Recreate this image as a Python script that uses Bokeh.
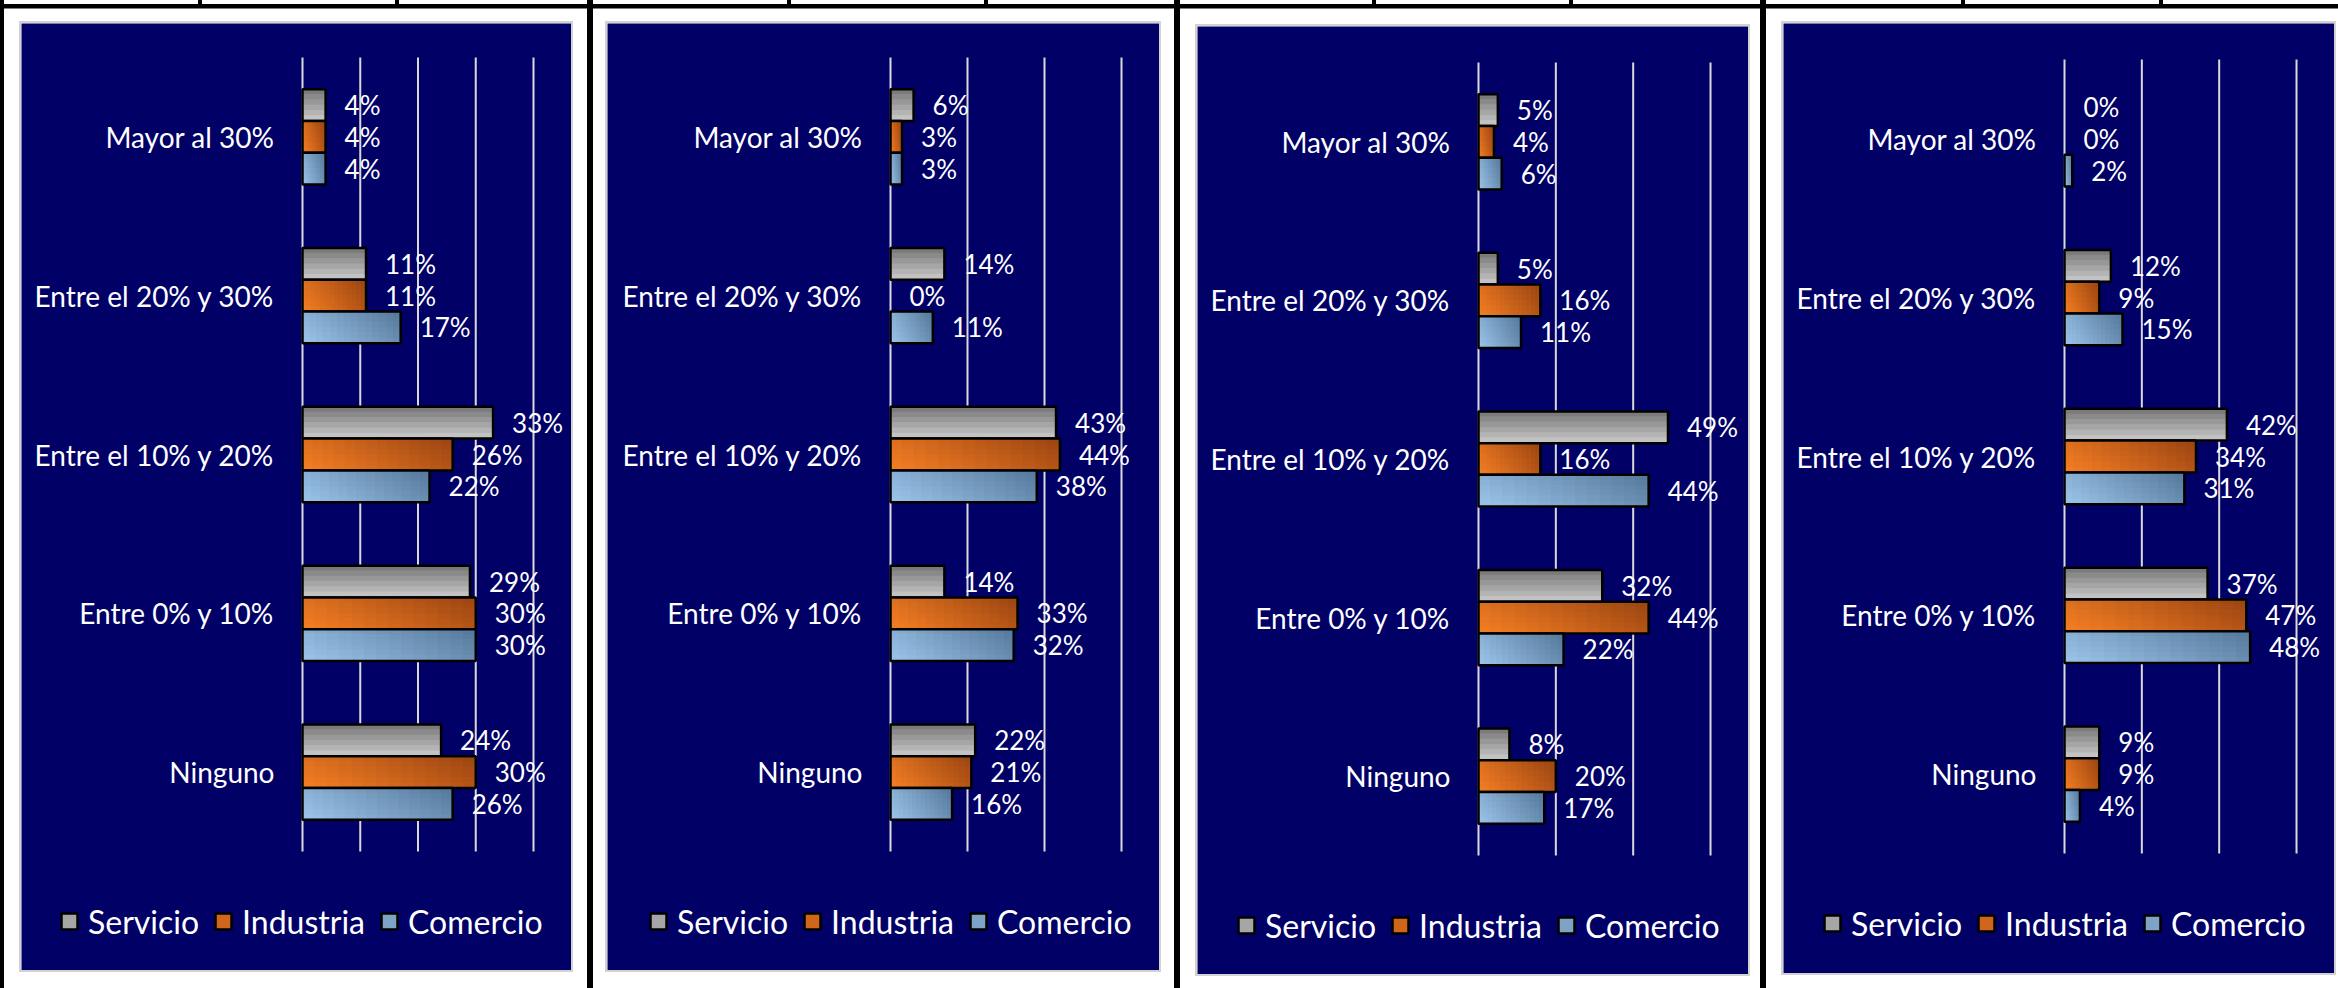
from bokeh.plotting import figure
from bokeh.models import ColumnDataSource, Legend, LegendItem, Div, Range1d
from bokeh.core.properties import value
from bokeh.layouts import row, column
from bokeh.embed import file_html
from bokeh.resources import INLINE

# ---------------- data ----------------
categories = ["Mayor al 30%", "Entre el 20% y 30%", "Entre el 10% y 20%", "Entre 0% y 10%", "Ninguno"]  # top -> bottom
series = ["Servicio", "Industria", "Comercio"]

p1_servicio = [4, 11, 33, 29, 24]
p1_industria = [4, 11, 26, 30, 30]
p1_comercio = [4, 17, 22, 30, 26]

p2_servicio = [6, 14, 43, 14, 22]
p2_industria = [3, 0, 44, 33, 21]
p2_comercio = [3, 11, 38, 32, 16]

p3_servicio = [5, 5, 49, 32, 8]
p3_industria = [4, 16, 16, 44, 20]
p3_comercio = [6, 11, 44, 22, 17]

p4_servicio = [0, 12, 42, 37, 9]
p4_industria = [0, 9, 34, 47, 9]
p4_comercio = [2, 15, 31, 48, 4]

p1_ticks = [0, 10, 20, 30, 40]
p2_ticks = [0, 20, 40, 60]
p3_ticks = [0, 20, 40, 60]
p4_ticks = [0, 20, 40, 60]

# ---------------- style ----------------
NAVY = "#000066"
GRID = "#D9D9D9"
FONT = "Lato"
GRAD = {
    "Servicio": ("#CACACA", "#747474"),
    "Industria": ("#F68024", "#9A4412"),
    "Comercio": ("#9DC5EB", "#54789A"),
}
MID = {"Servicio": "#A6A6A6", "Industria": "#D0651C", "Comercio": "#7EA3C7"}
OFFS = {"Servicio": 0.2, "Industria": 0.0, "Comercio": -0.2}
BAR_H = 0.2
NY = 6
NCAT = len(categories)
cat_pos = [NCAT - 1 - i for i in range(NCAT)]  # numeric position of each category (top = highest)


def hex2rgb(h):
    h = h.lstrip("#")
    return tuple(int(h[i:i + 2], 16) for i in (0, 2, 4))


def lerp(c1, c2, t):
    a, b = hex2rgb(c1), hex2rgb(c2)
    return "#%02x%02x%02x" % tuple(int(round(a[i] + (b[i] - a[i]) * t)) for i in range(3))


# layout in page pixels
panels = [
    dict(vals=[p1_servicio, p1_industria, p1_comercio], ticks=p1_ticks,
         fl=21, ft=23, w=550, h=947, x0=302, ppp=5.775, yt=57, yb=851, ml=17, lgx=59, lgy=921),
    dict(vals=[p2_servicio, p2_industria, p2_comercio], ticks=p2_ticks,
         fl=607, ft=23, w=552, h=947, x0=890, ppp=3.85, yt=57, yb=851, ml=14, lgx=648, lgy=921),
    dict(vals=[p3_servicio, p3_industria, p3_comercio], ticks=p3_ticks,
         fl=1197, ft=26, w=551, h=948, x0=1478, ppp=3.867, yt=62, yb=855, ml=17, lgx=1236, lgy=925),
    dict(vals=[p4_servicio, p4_industria, p4_comercio], ticks=p4_ticks,
         fl=1783, ft=23, w=551, h=950, x0=2064, ppp=3.867, yt=59, yb=853, ml=17, lgx=1822, lgy=923),
]
TOP_STRIP = 9


def make_panel(cfg):
    upp = NCAT / (cfg["yb"] - cfg["yt"])
    y_start = -0.5 - (cfg["ft"] + cfg["h"] - cfg["yb"]) * upp
    y_end = NCAT - 0.5 + (cfg["yt"] - cfg["ft"]) * upp
    x_start = (cfg["fl"] - cfg["x0"]) / cfg["ppp"]
    x_end = (cfg["fl"] + cfg["w"] - cfg["x0"]) / cfg["ppp"]
    p = figure(
        width=cfg["w"], height=cfg["h"],
        x_range=Range1d(x_start, x_end), y_range=Range1d(y_start, y_end),
        x_axis_location=None, y_axis_location=None,
        toolbar_location=None, output_backend="svg",
        min_border=0, min_border_left=0, min_border_right=0, min_border_top=0, min_border_bottom=0,
        border_fill_color=NAVY, background_fill_color=NAVY,
        outline_line_color=None,
        margin=(cfg["ft"] - TOP_STRIP, 0, 0, cfg["ml"]),
        styles={"outline": "2px solid #D2D2D2"},
    )
    p.grid.visible = False

    # vertical gridlines over the category band
    ticks = cfg["ticks"]
    p.segment(x0=ticks, x1=ticks, y0=[-0.5] * len(ticks), y1=[NCAT - 0.5] * len(ticks),
              line_color=GRID, line_width=2)

    # category labels
    p.text(x=[0] * NCAT, y=cat_pos, text=categories, x_offset=-28,
           text_align="right", text_baseline="middle", text_color="white",
           text_font=value(FONT), text_font_size="28px")

    items = []
    for s_name, vals in zip(series, cfg["vals"]):
        off = OFFS[s_name]
        light, dark = GRAD[s_name]
        ys = [c + off for c in cat_pos]
        src = ColumnDataSource(dict(y=ys, val=vals, lbl=["%d%%" % v for v in vals]))
        base = p.hbar(y="y", left=0, right="val", height=BAR_H, source=src,
                      fill_color=MID[s_name], line_color=None)
        nx = 1 if s_name == "Servicio" else 14
        for k in range(NY):
            tb = (k + 0.5) / NY  # 0 top -> 1 bottom
            yy, lefts, rights, cols = [], [], [], []
            for y, v in zip(ys, vals):
                if v <= 0:
                    continue
                for j in range(nx):
                    u = (j + 0.5) / nx
                    t = (1 - tb) if s_name == "Servicio" else 0.72 * u + 0.28 * (1 - tb)
                    yy.append(y + BAR_H / 2 - (k + 0.5) * BAR_H / NY)
                    lefts.append(v * j / nx)
                    rights.append(v * (j + 1) / nx)
                    cols.append(lerp(light, dark, t))
            ssrc = ColumnDataSource(dict(y=yy, left=lefts, right=rights, color=cols))
            p.hbar(y="y", left="left", right="right", height=BAR_H / NY, source=ssrc,
                   fill_color="color", line_color="color", line_width=1)
        nz = [(y, v) for y, v in zip(ys, vals) if v > 0]
        osrc = ColumnDataSource(dict(y=[a for a, _ in nz], val=[b for _, b in nz]))
        outline = p.hbar(y="y", left=0, right="val", height=BAR_H, source=osrc,
                         fill_color=None, line_color="black", line_width=2.5)
        p.text(x="val", y="y", text="lbl", source=src,
               x_offset=19, text_align="left", text_baseline="middle",
               text_color="white", text_font=value(FONT), text_font_size="26px")
        items.append(LegendItem(label=s_name, renderers=[base, outline]))

    LH = 40
    legend = Legend(items=items, orientation="horizontal",
                    location=(cfg["lgx"] - cfg["fl"], cfg["ft"] + cfg["h"] - cfg["lgy"] - LH / 2),
                    padding=0, margin=0, spacing=14, label_standoff=9,
                    glyph_width=20, glyph_height=20, label_height=LH,
                    border_line_color=None, background_fill_alpha=0,
                    label_text_color="white", label_text_font=FONT,
                    label_text_font_size="32px")
    p.add_layout(legend)
    return p


figs = [make_panel(c) for c in panels]

# table lines of the page (black)
thick_x = [(0, 4), (587, 593), (1174, 1180), (1760, 1766)]
thin_x = [198, 395, 787, 984, 1372, 1569, 1961, 2159]
svg = ['<svg xmlns="http://www.w3.org/2000/svg" width="2338" height="%d" style="display:block">' % TOP_STRIP]
svg.append('<rect x="0" y="4" width="2338" height="4.5" fill="black"/>')
for x in thin_x:
    svg.append('<rect x="%d" y="0" width="4" height="5" fill="black"/>' % x)
for a, b in thick_x:
    svg.append('<rect x="%d" y="0" width="%d" height="%d" fill="black"/>' % (a, b - a, TOP_STRIP))
svg.append('</svg>')
top = Div(text="".join(svg), width=2338, height=TOP_STRIP, margin=(0, 0, 0, 0),
          styles={"overflow": "hidden", "line-height": "0"})


def black_line(ml, w):
    return Div(text="", width=w, height=988 - TOP_STRIP, margin=(0, 0, 0, ml),
               styles={"background-color": "black"})


body = row(black_line(0, 4), figs[0], black_line(16, 6), figs[1], black_line(15, 6), figs[2],
           black_line(12, 6), figs[3], spacing=0)
layout = column(top, body, spacing=0)

open("out.html", "w").write(file_html(layout, INLINE))
